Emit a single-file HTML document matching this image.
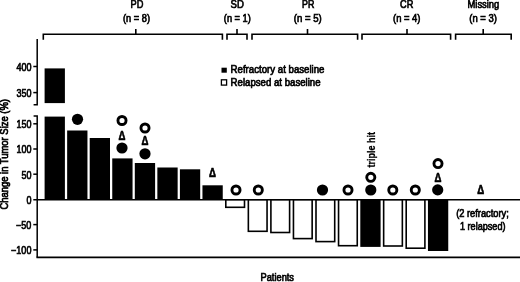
<!DOCTYPE html>
<html><head><meta charset="utf-8"><title>Waterfall plot</title>
<style>
html,body{margin:0;padding:0;background:#fff;}
svg{display:block;filter:grayscale(1) blur(0.35px);}
text{font-family:"Liberation Sans", sans-serif;fill:#000;stroke:#000;stroke-width:0.7px;}
</style></head>
<body>
<svg width="520" height="282" viewBox="0 0 520 282">
<rect width="520" height="282" fill="#fff"/>
<g stroke="#000" stroke-width="1.5" fill="none" stroke-linecap="butt">
<path d="M37.2 39 V104.7 H33.6"/>
<path d="M33.6 116.0 H37.2 V257.4"/>
<path stroke-width="1.7" d="M36.45 257.4 H520"/>
<path d="M33.3 199.85 H520"/>
<path d="M33.3 66.5 H37.2"/>
<path d="M33.3 92.6 H37.2"/>
<path d="M33.3 123.8 H37.2"/>
<path d="M33.3 149.0 H37.2"/>
<path d="M33.3 174.2 H37.2"/>
<path d="M33.3 224.6 H37.2"/>
<path d="M33.3 249.9 H37.2"/>
<path stroke-width="1.6" d="M43.3 39.7 V34.3 H222.4 V39.7 M135.8 34.3 V28.9"/>
<path stroke-width="1.6" d="M227 39.7 V34.3 H247 V39.7 M237 34.3 V28.9"/>
<path stroke-width="1.6" d="M252 39.7 V34.3 H357.6 V39.7 M307.5 34.3 V28.9"/>
<path stroke-width="1.6" d="M362 39.7 V34.3 H450.6 V39.7 M407 34.3 V28.9"/>
<path stroke-width="1.6" d="M455.6 39.7 V34.3 H511.2 V39.7 M483.2 34.3 V28.9"/>
</g>
<rect x="44.6" y="68.4" width="20.3" height="34.69999999999999" fill="#000"/>
<rect x="44.6" y="116.6" width="20.3" height="83.25" fill="#000"/>
<rect x="67.15" y="130.5" width="20.3" height="69.35" fill="#000"/>
<rect x="89.7" y="138" width="20.3" height="61.849999999999994" fill="#000"/>
<rect x="112.25" y="158.4" width="20.3" height="41.44999999999999" fill="#000"/>
<rect x="134.8" y="163" width="20.3" height="36.849999999999994" fill="#000"/>
<rect x="157.35" y="167.5" width="20.3" height="32.349999999999994" fill="#000"/>
<rect x="179.9" y="169.3" width="20.3" height="30.549999999999983" fill="#000"/>
<rect x="202.45" y="185.3" width="20.3" height="14.549999999999983" fill="#000"/>
<rect x="225.8" y="199.85" width="18.7" height="7.45" fill="#fff" stroke="#000" stroke-width="1.6"/>
<rect x="248.35000000000002" y="199.85" width="18.7" height="31.45" fill="#fff" stroke="#000" stroke-width="1.6"/>
<rect x="270.90000000000003" y="199.85" width="18.7" height="32.65000000000002" fill="#fff" stroke="#000" stroke-width="1.6"/>
<rect x="293.45000000000005" y="199.85" width="18.7" height="38.750000000000014" fill="#fff" stroke="#000" stroke-width="1.6"/>
<rect x="316.00000000000006" y="199.85" width="18.7" height="41.750000000000014" fill="#fff" stroke="#000" stroke-width="1.6"/>
<rect x="338.55000000000007" y="199.85" width="18.7" height="45.85000000000001" fill="#fff" stroke="#000" stroke-width="1.6"/>
<rect x="360.3" y="199.85" width="20.3" height="47.05000000000001" fill="#000"/>
<rect x="383.65000000000003" y="199.85" width="18.7" height="46.15000000000002" fill="#fff" stroke="#000" stroke-width="1.6"/>
<rect x="406.20000000000005" y="199.85" width="18.7" height="48.35000000000001" fill="#fff" stroke="#000" stroke-width="1.6"/>
<rect x="427.95000000000005" y="199.85" width="20.3" height="51.150000000000006" fill="#000"/>
<circle cx="77.5" cy="119.3" r="5.6" fill="#000"/>
<circle cx="122" cy="120.5" r="4.05" fill="#fff" stroke="#000" stroke-width="2.9"/>
<text transform="translate(122 139.6) scale(0.71 1)" font-size="13.6" font-weight="bold" text-anchor="middle">Δ</text>
<circle cx="122" cy="148" r="5.6" fill="#000"/>
<circle cx="145" cy="128" r="4.05" fill="#fff" stroke="#000" stroke-width="2.9"/>
<text transform="translate(145 145.1) scale(0.71 1)" font-size="13.6" font-weight="bold" text-anchor="middle">Δ</text>
<circle cx="145" cy="153.8" r="5.6" fill="#000"/>
<text transform="translate(212.5 177.1) scale(0.71 1)" font-size="13.6" font-weight="bold" text-anchor="middle">Δ</text>
<circle cx="236" cy="190.0" r="4.05" fill="#fff" stroke="#000" stroke-width="2.9"/>
<circle cx="258.3" cy="190.0" r="4.05" fill="#fff" stroke="#000" stroke-width="2.9"/>
<circle cx="322.5" cy="190.0" r="5.6" fill="#000"/>
<circle cx="348" cy="190.0" r="4.05" fill="#fff" stroke="#000" stroke-width="2.9"/>
<circle cx="370.8" cy="190.0" r="5.6" fill="#000"/>
<circle cx="370.8" cy="177.3" r="4.05" fill="#fff" stroke="#000" stroke-width="2.9"/>
<circle cx="392.8" cy="190.0" r="4.05" fill="#fff" stroke="#000" stroke-width="2.9"/>
<circle cx="415.3" cy="190.0" r="4.05" fill="#fff" stroke="#000" stroke-width="2.9"/>
<circle cx="437.7" cy="189.9" r="5.6" fill="#000"/>
<text transform="translate(437.9 181.5) scale(0.71 1)" font-size="13.6" font-weight="bold" text-anchor="middle">Δ</text>
<circle cx="438" cy="163.6" r="4.05" fill="#fff" stroke="#000" stroke-width="2.9"/>
<text transform="translate(480.8 193.6) scale(0.71 1)" font-size="13.6" font-weight="bold" text-anchor="middle">Δ</text>
<rect x="221.5" y="67.7" width="5.3" height="5.0" fill="#000"/>
<rect x="221.4" y="79.8" width="5.2" height="5.3" fill="#fff" stroke="#000" stroke-width="1.3"/>
<text x="230.6" y="73.2" font-size="11" font-weight="normal" textLength="93.9" lengthAdjust="spacingAndGlyphs" >Refractory at baseline</text>
<text x="230.6" y="85.9" font-size="11" font-weight="normal" textLength="90.0" lengthAdjust="spacingAndGlyphs" >Relapsed at baseline</text>
<text x="130.5" y="8.3" font-size="11" font-weight="normal" textLength="12.8" lengthAdjust="spacingAndGlyphs" >PD</text>
<text x="123" y="22.3" font-size="11" font-weight="normal" textLength="27" lengthAdjust="spacingAndGlyphs" >(n = 8)</text>
<text x="230.5" y="8.3" font-size="11" font-weight="normal" textLength="13.3" lengthAdjust="spacingAndGlyphs" >SD</text>
<text x="223.8" y="22.3" font-size="11" font-weight="normal" textLength="27.0" lengthAdjust="spacingAndGlyphs" >(n = 1)</text>
<text x="302" y="8.3" font-size="11" font-weight="normal" textLength="12.3" lengthAdjust="spacingAndGlyphs" >PR</text>
<text x="293.8" y="22.3" font-size="11" font-weight="normal" textLength="28.0" lengthAdjust="spacingAndGlyphs" >(n = 5)</text>
<text x="400" y="8.3" font-size="11" font-weight="normal" textLength="13.3" lengthAdjust="spacingAndGlyphs" >CR</text>
<text x="393" y="22.3" font-size="11" font-weight="normal" textLength="27.5" lengthAdjust="spacingAndGlyphs" >(n = 4)</text>
<text x="467.5" y="8.3" font-size="11" font-weight="normal" textLength="31.8" lengthAdjust="spacingAndGlyphs" >Missing</text>
<text x="469.3" y="22.3" font-size="11" font-weight="normal" textLength="27.7" lengthAdjust="spacingAndGlyphs" >(n = 3)</text>
<text x="456.2" y="217.0" font-size="11" font-weight="normal" textLength="52.6" lengthAdjust="spacingAndGlyphs" >(2 refractory;</text>
<text x="460" y="230.0" font-size="11" font-weight="normal" textLength="45.5" lengthAdjust="spacingAndGlyphs" >1 relapsed)</text>
<text x="260.5" y="281.2" font-size="11" font-weight="normal" textLength="33.5" lengthAdjust="spacingAndGlyphs" >Patients</text>
<text x="16.4" y="70.9" font-size="11" font-weight="normal" textLength="15.0" lengthAdjust="spacingAndGlyphs" >400</text>
<text x="16.4" y="97.0" font-size="11" font-weight="normal" textLength="15.0" lengthAdjust="spacingAndGlyphs" >350</text>
<text x="16.4" y="128.2" font-size="11" font-weight="normal" textLength="15.0" lengthAdjust="spacingAndGlyphs" >150</text>
<text x="16.4" y="153.4" font-size="11" font-weight="normal" textLength="15.0" lengthAdjust="spacingAndGlyphs" >100</text>
<text x="21.4" y="178.6" font-size="11" font-weight="normal" textLength="10.0" lengthAdjust="spacingAndGlyphs" >50</text>
<text x="26.4" y="204.0" font-size="11" font-weight="normal" textLength="5.0" lengthAdjust="spacingAndGlyphs" >0</text>
<text x="16.099999999999998" y="229.0" font-size="11" font-weight="normal" textLength="15.3" lengthAdjust="spacingAndGlyphs" >−50</text>
<text x="11.099999999999998" y="254.3" font-size="11" font-weight="normal" textLength="20.3" lengthAdjust="spacingAndGlyphs" >−100</text>
<text transform="translate(7.7 209.6) rotate(-90)" font-size="10" textLength="110.6" lengthAdjust="spacingAndGlyphs">Change in Tumor Size (%)</text>
<text transform="translate(374.9 167.6) rotate(-90)" font-size="10.5" font-weight="bold" style="stroke-width:0.25px" textLength="35.6" lengthAdjust="spacingAndGlyphs">triple hit</text>
</svg>
</body></html>
